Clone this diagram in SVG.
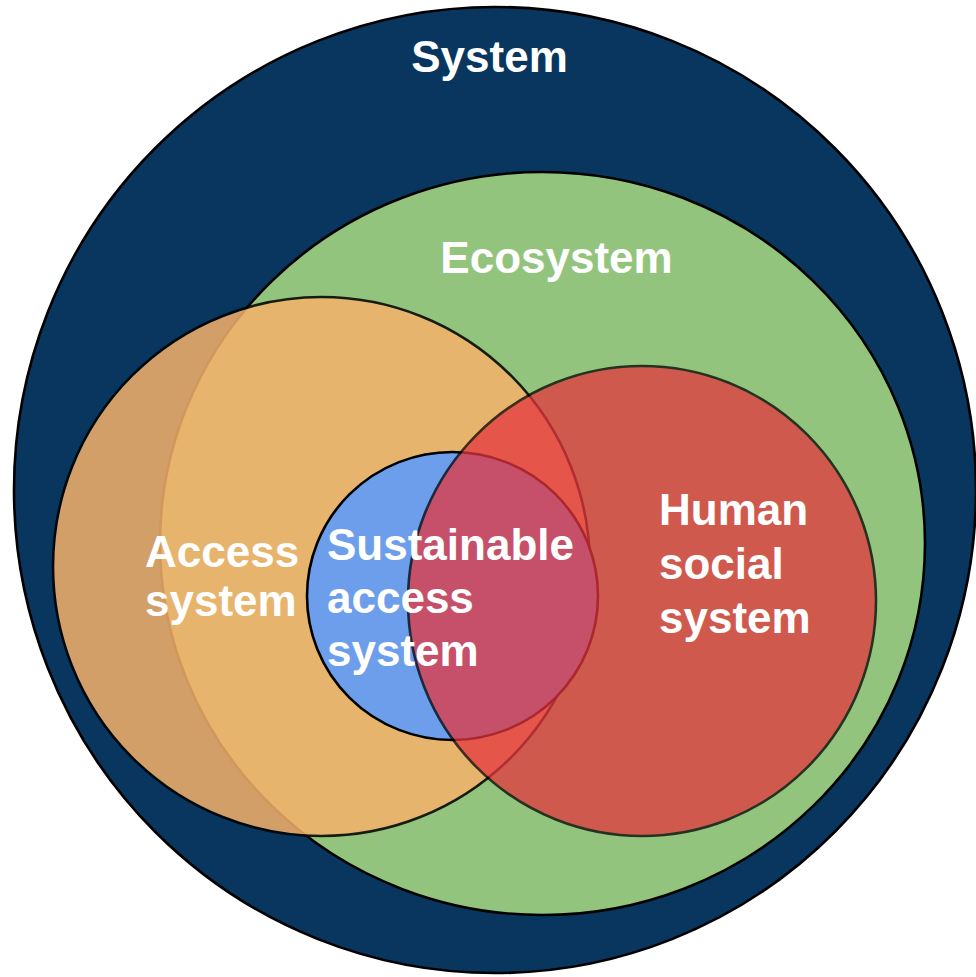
<svg xmlns="http://www.w3.org/2000/svg" width="976" height="977" viewBox="0 0 976 977">
  <style>
    .shape { stroke: #000000; stroke-width: 2.6; }
    .label { font-family: "Liberation Sans", Arial, sans-serif; font-weight: bold; font-size: 44px; fill: #ffffff; }
  </style>
  <rect width="976" height="977" fill="#ffffff"/>
  <g id="node-system">
    <ellipse class="shape" cx="495" cy="490" rx="481" ry="483" fill="#08365f"/>
  </g>
  <g id="node-ecosystem">
    <ellipse class="shape" cx="542.5" cy="543.5" rx="382.5" ry="371.5" fill="#93c47d"/>
  </g>
  <g id="node-access-system">
    <ellipse class="shape" cx="321.5" cy="566.5" rx="268.5" ry="269.5" fill="#f6b26b" opacity="0.85"/>
  </g>
  <g id="node-sustainable-access-system">
    <ellipse class="shape" cx="452.5" cy="596" rx="145.5" ry="144" fill="#6d9eeb"/>
  </g>
  <g id="node-human-social-system">
    <ellipse class="shape" cx="642" cy="601" rx="234" ry="235" fill="#e6353e" opacity="0.74"/>
  </g>
  <g id="connectors"/>
  <g id="labels">
    <text id="label-system" class="label" x="489.5" y="72" text-anchor="middle">System</text>
    <text id="label-ecosystem" class="label" x="556.5" y="273" text-anchor="middle">Ecosystem</text>
    <text id="label-access-system" class="label" x="145" y="567">Access<tspan x="145" y="616">system</tspan></text>
    <text id="label-sustainable-access-system" class="label" x="327" y="560">Sustainable<tspan x="327" y="613">access</tspan><tspan x="327" y="666">system</tspan></text>
    <text id="label-human-social-system" class="label" x="659" y="525">Human<tspan x="659" y="579">social</tspan><tspan x="659" y="633">system</tspan></text>
  </g>
</svg>
